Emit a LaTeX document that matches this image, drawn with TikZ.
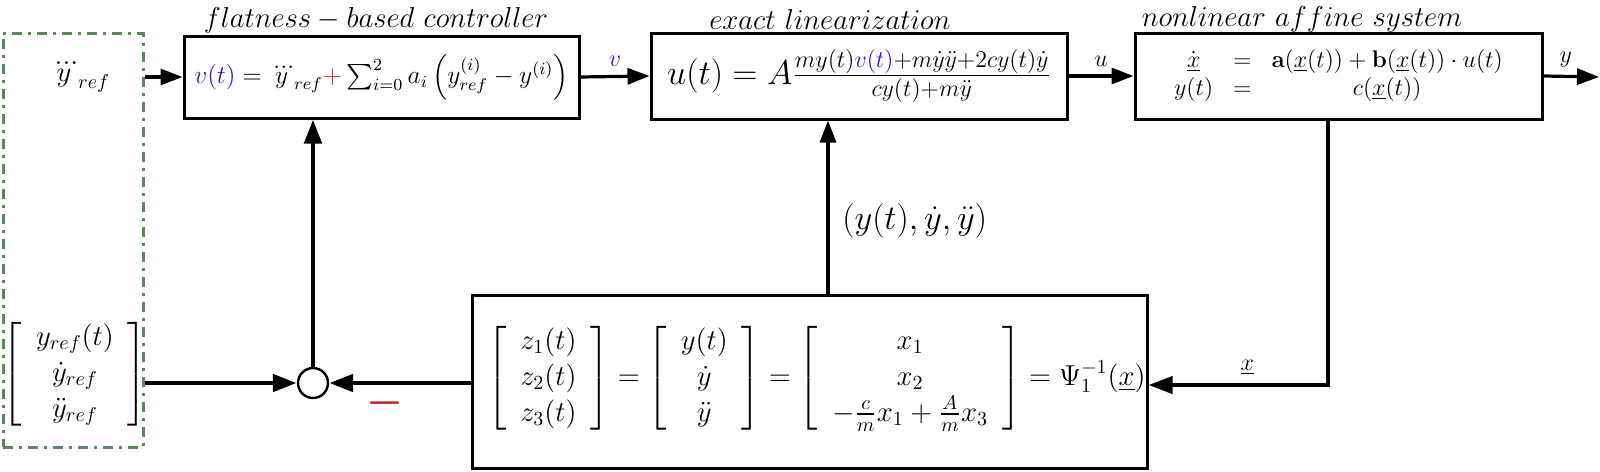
\documentclass[tikz,border=0pt]{standalone}
\usepackage{amsmath}
\usepackage{graphicx}
\usetikzlibrary{arrows.meta,calc}
\definecolor{refgreen}{RGB}{88,138,88}
\definecolor{vblue}{RGB}{30,30,190}
\definecolor{mred}{RGB}{200,30,30}
\tikzset{
  blk/.style={draw, line width=1.5pt, inner sep=0pt, font=\large},
  ttl/.style={font=\Large, inner sep=0pt},
  arr/.style={line width=1.6pt, -{Triangle[length=11pt,width=8pt]}},
  tarr/.style={line width=2.4pt, -{Triangle[length=12pt,width=8.5pt]}},
  farr/.style={line width=2pt, -{Triangle[length=12pt,width=8.5pt]}},
  lbl/.style={font=\large, inner sep=1pt},
  frame/.style={draw=refgreen, line width=1.5pt, dash pattern=on 5pt off 3pt on 1.5pt off 3pt, inner sep=0pt},
}
\begin{document}
\begin{tikzpicture}[x=0.5pt,y=-0.5pt]
\useasboundingbox (0,0) rectangle (1600,471);
% reference frame
\node[frame, minimum width=70pt, minimum height=207pt] (ref) at (73,240) {};
\node[font=\Large] (yddd) at (80,78) {$\dddot{y}_{ref}$};
\node[font=\Large] (vec) at (75,374) {\setlength{\arraycolsep}{7pt}$\left[\begin{array}{c} y_{ref}(t)\\ \dot{y}_{ref}\\ \ddot{y}_{ref}\end{array}\right]$};
% blocks
\node[blk, minimum width=197.5pt, minimum height=41pt] (b1) at (381.5,77)
  {\scalebox{1.06}{$\textcolor{vblue}{v(t)} = \dddot{y}_{ref}{\color{mred}+}\sum_{i=0}^{2} a_i \left(y_{ref}^{(i)} - y^{(i)}\right)$}};
\node[blk, font=\LARGE, minimum width=208pt, minimum height=43pt] (b2) at (859,76)
  {$u(t) = A\frac{my(t){\color{vblue}v(t)}+m\dot{y}\ddot{y}+2cy(t)\dot{y}}{cy(t)+m\ddot{y}}$};
\node[blk, minimum width=203.5pt, minimum height=43pt] (b3) at (1338.5,76)
  {$\begin{array}{ccc} \dot{\underline{x}} & = & \mathbf{a}(\underline{x}(t)) + \mathbf{b}(\underline{x}(t))\cdot u(t)\\ y(t) & = & c(\underline{x}(t))\end{array}$};
\node[blk, minimum width=337.5pt, minimum height=86.5pt] (b4) at (809.5,381.5) {};
\node[font=\Large, anchor=east, inner sep=0pt] (f4) at (1146,378)
  {\setlength{\arraycolsep}{7pt}$\left[\begin{array}{c} z_1(t)\\ z_2(t)\\ z_3(t)\end{array}\right] = \left[\begin{array}{c} y(t)\\ \dot{y}\\ \ddot{y}\end{array}\right] = \left[\begin{array}{c} x_1\\ x_2\\ -\frac{c}{m}x_1+\frac{A}{m}x_3\end{array}\right] = \Psi_1^{-1}(\underline{x})$};
% titles
\node[ttl] (t1) at (376,20) {$flatness - based\ controller$};
\node[ttl] (t2) at (830,19) {$exact\ linearization$};
\node[ttl] (t3) at (1302,19) {$nonlinear\ affine\ system$};
% summing junction
\node[circle, draw, line width=1.2pt, minimum size=15pt, inner sep=0pt] (sum) at (313,383) {};
% coordinates
\coordinate (yout) at (1599,77);
\coordinate (fb) at (1328,385);
\coordinate (mid) at (828,200);
% connectors
\draw[arr] (ref.east |- b1.west) -- (b1.west);
\draw[arr] (b1.east) -- node[lbl, above=3pt, text=vblue] (lv) {$v$} (b2.west);
\draw[arr] (b2.east) -- node[lbl, above=3pt] (lu) {$u$} (b3.west);
\draw[arr] (b3.east) -- node[lbl, above=3pt, pos=0.4] (ly) {$y$} (yout);
\draw[farr] (b3.south -| fb) -- (fb) -- node[lbl, above=3pt, pos=0.45] (lx) {$\underline{x}$} (b4.east |- fb);
\draw[arr] (b4.north -| mid) -- node[font=\LARGE, anchor=west, xshift=3pt, pos=0.42] (ly3) {$(y(t),\dot{y},\ddot{y})$} (b2.south -| mid);
\draw[tarr] (b4.west |- sum) -- (sum.east);
\draw[tarr] (ref.east |- sum) -- (sum.west);
\draw[tarr] (sum.north) -- (sum.north |- b1.south);
\node[text=mred, font=\boldmath\huge, inner sep=0pt] (minus) at (385,403) {$-$};
\end{tikzpicture}
\end{document}
